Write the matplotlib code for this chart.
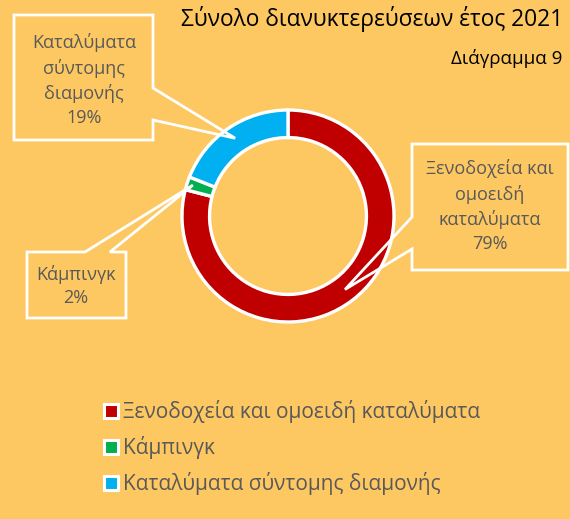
import numpy as np
import matplotlib.pyplot as plt
from matplotlib.patches import Polygon
from matplotlib.lines import Line2D

# Δεδομένα
categories = ['Ξενοδοχεία και ομοειδή καταλύματα', 'Κάμπινγκ', 'Καταλύματα σύντομης διαμονής']
values = [79, 2, 19]
callout_texts = ['Ξενοδοχεία και\nομοειδή\nκαταλύματα', 'Κάμπινγκ', 'Καταλύματα\nσύντομης\nδιαμονής']
colors = ['#C00000', '#00B050', '#00B0F0']
bg = '#FDC862'
grey = '#595959'

plt.rcParams['font.family'] = ['Open Sans', 'DejaVu Sans']

W, H = 570, 519
fig = plt.figure(figsize=(W / 100, H / 100), dpi=100, facecolor=bg)

# Κέντρο και ακτίνα του δακτυλίου σε pixel
cx, cy, R = 288, 216, 106
ax = fig.add_axes([(cx - R * 1.02) / W, 1 - (cy + R * 1.02) / H, 2.04 * R / W, 2.04 * R / H])
ax.pie(values, colors=colors, startangle=90, counterclock=False, radius=1,
       wedgeprops=dict(width=0.26, edgecolor='white', linewidth=2.4))
ax.set_aspect('equal')
ax.set_xlim(-1.02, 1.02)
ax.set_ylim(-1.02, 1.02)

# Επικάλυψη για τίτλους και επεξηγήσεις (pixel)
ov = fig.add_axes([0, 0, 1, 1], facecolor='none')
ov.set_xlim(0, W)
ov.set_ylim(H, 0)
ov.axis('off')

ov.text(563, 19, 'Σύνολο διανυκτερεύσεων έτος 2021', ha='right', va='center',
        fontsize=16.4, color='black')
ov.text(562, 58, 'Διάγραμμα 9', ha='right', va='center', fontsize=13.5, color='black')

# γωνίες μέσου κάθε τμήματος
cum = np.cumsum([0] + values[:-1])
total = sum(values)
mids = [np.deg2rad(90 - (c + v / 2) / total * 360) for c, v in zip(cum, values)]
tip_r = [93, 100, 94]
tips = [(cx + r * np.cos(a), cy - r * np.sin(a)) for r, a in zip(tip_r, mids)]

# Πλαίσια επεξηγήσεων
boxes = [
    # red: box left side pointer
    [(412, 144), (568, 144), (568, 270), (412, 270), (412, 249), tips[0], (412, 217)],
    # green: top side pointer
    [(27, 252), (85, 252), tips[1], (110, 252), (126, 252), (126, 318), (27, 318)],
    # blue: right side pointer
    [(14, 15), (153, 15), (153, 88), tips[2], (153, 120), (153, 140), (14, 140)],
]
for pts in boxes:
    ov.add_patch(Polygon(pts, closed=True, fill=False, edgecolor='white', linewidth=2))

label_pos = [(490, 206), (76, 286), (84, 80)]
for txt, v, (x, y) in zip(callout_texts, values, label_pos):
    ov.text(x, y, f'{txt}\n{v}%', ha='center', va='center', fontsize=13,
            color=grey, linespacing=1.42)

# Υπόμνημα
handles = [Line2D([], [], marker='s', linestyle='none', markersize=10,
                  markerfacecolor=c, markeredgecolor='white', markeredgewidth=2.2)
           for c in colors]
fig.legend(handles, categories, loc='upper left', bbox_to_anchor=(96 / W, 1 - 392 / H),
           frameon=False, fontsize=15, labelcolor=grey, handlelength=0.6,
           handletextpad=0.3, labelspacing=0.62, borderaxespad=0)

fig.savefig('out.png', dpi=100, facecolor=bg)
